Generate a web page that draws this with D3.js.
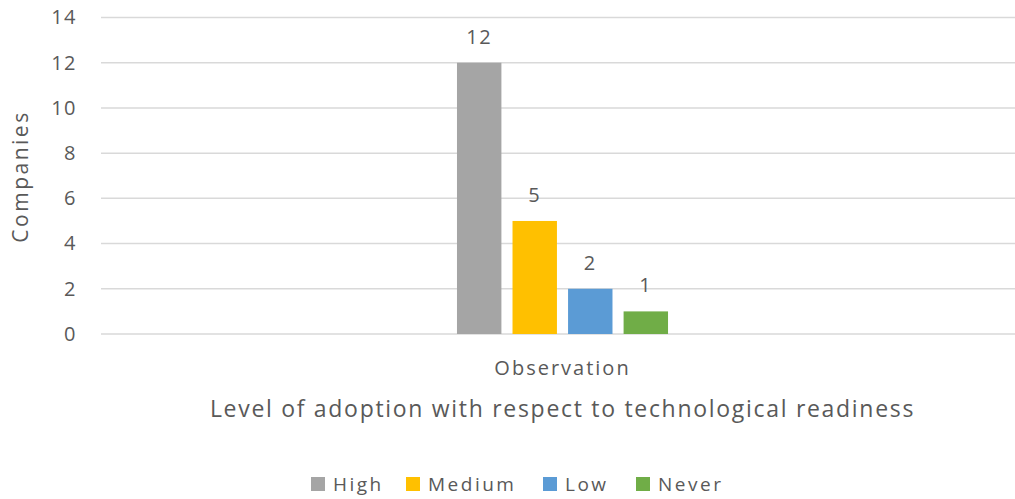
<!DOCTYPE html>
<html>
<head>
<meta charset="utf-8">
<script src="https://cdn.jsdelivr.net/npm/d3@7"></script>
<style>
  html, body { margin: 0; padding: 0; background: #fff; }
  svg { display: block; }
  text { font-family: "Open Sans", "DejaVu Sans", sans-serif; fill: #595959; }
</style>
</head>
<body>
<svg id="chart" width="1015" height="499"></svg>
<script>
// Chart data
const categories = ["Observation"];
const seriesNames = ["High", "Medium", "Low", "Never"];
const seriesValues = [12, 5, 2, 1];
const seriesColors = ["#a5a5a5", "#ffc000", "#5b9bd5", "#70ad47"];
const yTicks = [0, 2, 4, 6, 8, 10, 12, 14];
const yTitle = "Companies";
const xTitle = "Level of adoption with respect to technological readiness";

const svg = d3.select("#chart");
const W = 1015, H = 499;
const plot = { left: 101, right: 1024, top: 17.5, bottom: 334 };

const y = d3.scaleLinear().domain([0, 14]).range([plot.bottom, plot.top]);
const x0 = d3.scaleBand().domain(categories).range([plot.left, plot.right]).padding(0.612);
const x1 = d3.scaleBand().domain(seriesNames).range([0, x0.bandwidth()])
  .paddingInner(0.2).paddingOuter(0.1);

// Horizontal gridlines
svg.append("g")
  .selectAll("line")
  .data(yTicks)
  .join("line")
  .attr("x1", plot.left)
  .attr("x2", W)
  .attr("y1", d => y(d))
  .attr("y2", d => y(d))
  .attr("stroke", "#d9d9d9")
  .attr("stroke-width", 1.5);

// Y axis tick labels
const yAxis = d3.axisLeft(y).tickValues(yTicks).tickSize(0).tickPadding(0);
const gy = svg.append("g").attr("transform", `translate(77,0)`).call(yAxis);
gy.select(".domain").remove();
gy.selectAll("text")
  .attr("font-size", 20)
  .attr("fill", "#595959")
  .style("letter-spacing", "1.5px")
  .style("font-family", "'Open Sans', sans-serif");

// X axis category label
const xAxis = d3.axisBottom(x0).tickSize(0).tickPadding(0);
const gx = svg.append("g").attr("transform", `translate(0,${plot.bottom + 27})`).call(xAxis);
gx.select(".domain").remove();
gx.selectAll("text")
  .attr("font-size", 20)
  .attr("fill", "#595959")
  .style("letter-spacing", "2px")
  .style("font-family", "'Open Sans', sans-serif");

// Bars
const rows = seriesNames.map((s, i) => ({ cat: categories[0], name: s, value: seriesValues[i], color: seriesColors[i] }));
const g = svg.append("g");
g.selectAll("rect")
  .data(rows)
  .join("rect")
  .attr("x", d => x0(d.cat) + x1(d.name))
  .attr("y", d => y(d.value))
  .attr("width", x1.bandwidth())
  .attr("height", d => y(0) - y(d.value))
  .attr("fill", d => d.color);

// Value labels
g.selectAll("text.val")
  .data(rows)
  .join("text")
  .attr("class", "val")
  .attr("x", d => x0(d.cat) + x1(d.name) + x1.bandwidth() / 2)
  .attr("y", d => y(d.value) - 19)
  .attr("text-anchor", "middle")
  .attr("font-size", 20)
  .style("letter-spacing", "1.5px")
  .text(d => d.value);

// Axis titles
svg.append("text")
  .attr("transform", `translate(28,176.5) rotate(-90)`)
  .attr("text-anchor", "middle")
  .attr("font-size", 21)
  .style("letter-spacing", "2.5px")
  .text(yTitle);

svg.append("text")
  .attr("x", x0(categories[0]) + x0.bandwidth() / 2)
  .attr("y", 417)
  .attr("text-anchor", "middle")
  .attr("font-size", 23)
  .style("letter-spacing", "1.7px")
  .text(xTitle);

// Legend
const legendX = [311, 406, 543, 636];
const lg = svg.append("g");
const items = lg.selectAll("g").data(rows).join("g")
  .attr("transform", (d, i) => `translate(${legendX[i]},477)`);
items.append("rect").attr("width", 14).attr("height", 14).attr("fill", d => d.color);
items.append("text").attr("x", 22).attr("y", 14).attr("font-size", 19)
  .style("letter-spacing", "2.5px").text(d => d.name);
</script>
</body>
</html>
